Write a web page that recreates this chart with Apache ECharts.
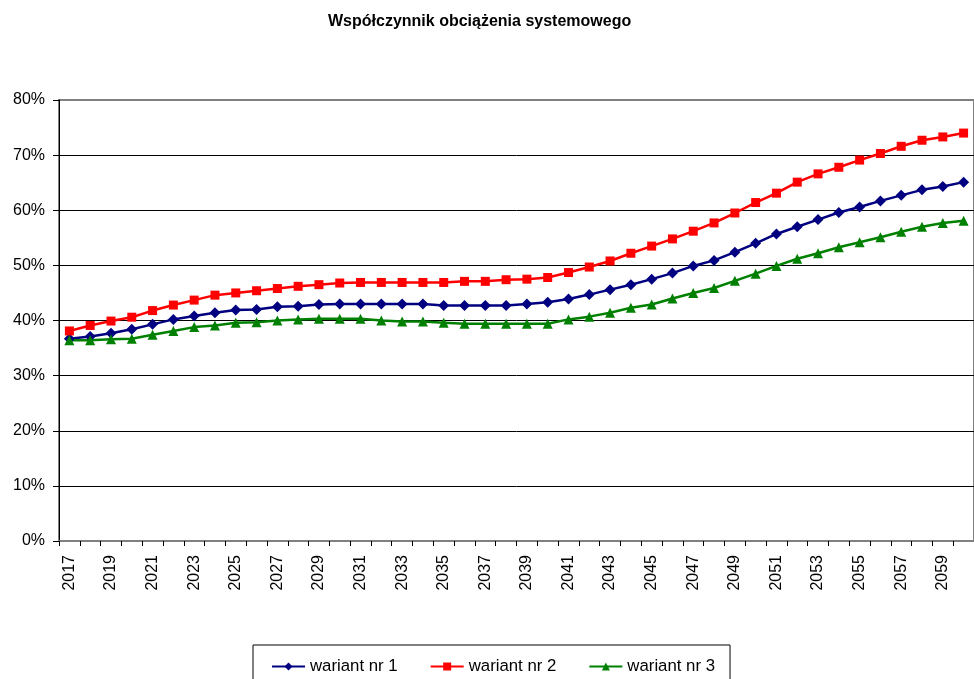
<!DOCTYPE html>
<html>
<head>
<meta charset="utf-8">
<script src="https://cdn.jsdelivr.net/npm/echarts@6/dist/echarts.min.js"></script>
<style>
html,body{margin:0;padding:0;background:#fff;}
#chart{width:974px;height:679px;}
</style>
</head>
<body>
<div id="chart"></div>
<script>
var years = [];
for (var y = 2017; y <= 2060; y++) { years.push(String(y)); }

var wariant1 = [36.7, 37.1, 37.7, 38.4, 39.3, 40.2, 40.8, 41.4, 41.9, 42.0, 42.5, 42.6, 42.9,
  43.0, 43.0, 43.0, 43.0, 43.0, 42.7, 42.7, 42.7, 42.7, 43.0, 43.3, 43.9, 44.7, 45.6, 46.5, 47.5,
  48.6, 49.9, 50.9, 52.4, 54.0, 55.7, 57.0, 58.3, 59.6, 60.6, 61.7, 62.7, 63.7, 64.3, 65.1];
var wariant2 = [38.1, 39.1, 39.9, 40.6, 41.8, 42.8, 43.7, 44.6, 45.0, 45.4, 45.8, 46.2, 46.5,
  46.8, 46.9, 46.9, 46.9, 46.9, 46.9, 47.1, 47.1, 47.4, 47.5, 47.8, 48.7, 49.7, 50.8, 52.2, 53.5,
  54.8, 56.2, 57.7, 59.5, 61.4, 63.1, 65.1, 66.6, 67.8, 69.1, 70.3, 71.6, 72.7, 73.3, 74.0];
var wariant3 = [36.4, 36.4, 36.6, 36.7, 37.4, 38.1, 38.8, 39.1, 39.6, 39.7, 40.0, 40.2, 40.3,
  40.3, 40.3, 40.0, 39.8, 39.8, 39.6, 39.4, 39.4, 39.4, 39.4, 39.4, 40.2, 40.7, 41.4, 42.3, 42.9,
  44.0, 45.0, 45.9, 47.2, 48.5, 49.9, 51.2, 52.2, 53.3, 54.2, 55.1, 56.1, 57.0, 57.7, 58.1];

var seriesNames = ['wariant nr 1', 'wariant nr 2', 'wariant nr 3'];
var titleText = 'Współczynnik obciążenia systemowego';

var FONT = 'Liberation Sans, Arial, sans-serif';

function mkSeries(name, data, color, symbol, size) {
  return {
    name: name,
    type: 'line',
    data: data,
    symbol: symbol,
    symbolSize: size,
    showAllSymbol: true,
    itemStyle: { color: color },
    lineStyle: { color: color, width: 2.5 },
    emphasis: { disabled: true },
    animation: false
  };
}

var chart = echarts.init(document.getElementById('chart'), null, { renderer: 'canvas' });
chart.setOption({
  backgroundColor: '#ffffff',
  animation: false,
  title: {
    text: titleText,
    left: 328,
    top: 14,
    padding: 0,
    textStyle: { fontFamily: FONT, fontSize: 16, fontWeight: 'bold', color: '#000' }
  },
  legend: {
    data: seriesNames,
    left: 253,
    top: 645,
    padding: [13, 15, 12, 18],
    itemGap: 32,
    itemWidth: 33,
    itemHeight: 10,
    borderColor: '#000',
    borderWidth: 1,
    borderRadius: 0,
    textStyle: { fontFamily: FONT, fontSize: 16.8, color: '#000', padding: [0, 0, 0, 0] }
  },
  grid: {
    left: 59,
    top: 100,
    width: 921,
    height: 441,
    show: true,
    borderColor: '#808080',
    borderWidth: 2,
    backgroundColor: 'transparent',
    containLabel: false
  },
  xAxis: {
    type: 'category',
    data: years,
    boundaryGap: true,
    axisLine: { show: true, lineStyle: { color: '#808080', width: 2 } },
    axisTick: { show: true, interval: 0, length: 5, lineStyle: { color: '#000', width: 1 } },
    axisLabel: {
      interval: 1,
      rotate: 90,
      margin: 14,
      fontFamily: FONT,
      fontSize: 16,
      color: '#000'
    },
    splitLine: { show: false }
  },
  yAxis: {
    type: 'value',
    min: 0,
    max: 80,
    interval: 10,
    axisLine: { show: true, lineStyle: { color: '#000', width: 1 } },
    axisTick: { show: true, length: 6, lineStyle: { color: '#000', width: 1 } },
    axisLabel: {
      formatter: '{value}%',
      margin: 14,
      fontFamily: FONT,
      fontSize: 16,
      color: '#000'
    },
    splitLine: {
      show: true,
      lineStyle: {
        color: ['#808080', '#000', '#000', '#000', '#000', '#000', '#000', '#000', '#808080'],
        width: 1
      }
    }
  },
  series: [
    mkSeries(seriesNames[0], wariant1, '#000080', 'diamond', 11),
    mkSeries(seriesNames[1], wariant2, '#ff0000', 'rect', 9),
    mkSeries(seriesNames[2], wariant3, '#008000', 'triangle', 10)
  ]
});
</script>
</body>
</html>
